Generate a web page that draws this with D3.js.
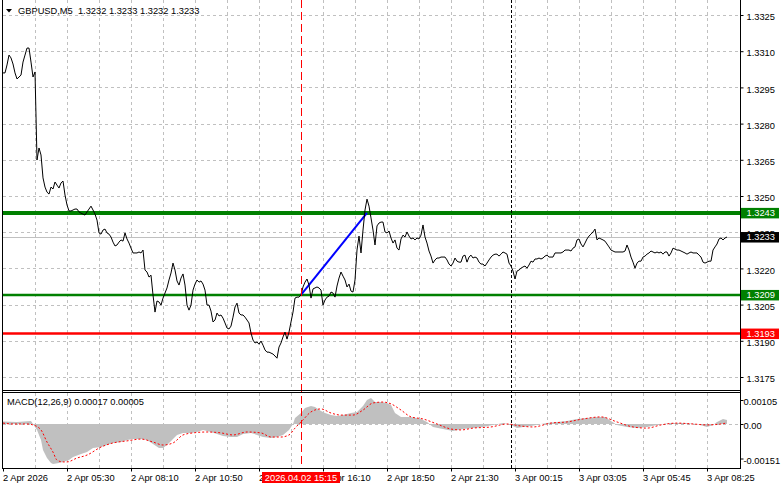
<!DOCTYPE html>
<html><head><meta charset="utf-8">
<script src="https://cdn.jsdelivr.net/npm/d3@7"></script>
<style>
body{margin:0;background:#fff}
svg{display:block}
text{font-family:"Liberation Sans",Arial,sans-serif;font-size:9.3px;fill:#000}
</style>
</head><body><script>
// ---- data ----
const symbolTitle = "GBPUSD,M5  1.3232 1.3233 1.3232 1.3233";
const macdTitle = "MACD(12,26,9) 0.00017 0.00005";
// M5 close prices, one per bar
const closes = [
1.33010,1.33010,1.33043,1.33084,1.33072,1.33047,1.33010,1.32985,1.32993,1.33001,1.33055,1.33084,1.33113,1.33113,1.33055,1.32993,1.33014,
1.32649,1.32699,1.32670,1.32575,1.32537,1.32516,1.32508,1.32537,1.32529,1.32558,1.32545,1.32533,1.32554,1.32562,
1.32504,1.32463,1.32438,1.32438,1.32442,1.32446,1.32446,1.32434,1.32429,1.32425,1.32421,1.32434,1.32446,1.32458,1.32442,1.32425,1.32400,
1.32347,1.32342,1.32359,1.32363,1.32347,1.32342,1.32330,1.32309,1.32293,1.32297,1.32309,1.32318,1.32313,1.32347,1.32322,1.32305,1.32284,1.32264,1.32264,1.32264,1.32268,1.32264,1.32276,
1.32193,1.32185,1.32164,1.32172,1.32090,1.32019,1.32065,1.32061,1.32048,1.32077,1.32098,1.32119,1.32152,1.32181,1.32222,1.32193,1.32148,1.32131,1.32160,1.32177,1.32131,1.32048,1.32027,1.32048,1.32110,1.32135,1.32152,1.32143,1.32148,1.32135,
1.32110,1.32048,1.32048,1.32023,1.31978,1.31986,1.32015,1.32003,1.32007,1.31994,1.31974,1.31953,1.31949,1.31961,1.31998,1.32040,1.32056,1.32015,1.32007,1.32007,1.31998,1.31986,1.31974,1.31932,1.31903,1.31891,1.31895,1.31886,1.31899,1.31882,
1.31862,1.31853,1.31853,1.31849,1.31845,1.31837,1.31828,1.31874,1.31891,1.31916,1.31936,1.31907,1.31936,1.31978,1.32019,1.32077,1.32081,1.32081,1.32090,
1.32123,1.32143,1.32156,1.32131,1.32077,1.32115,1.32119,1.32123,1.32119,1.32110,1.32048,1.32069,1.32081,1.32085,1.32102,1.32098,1.32081,1.32127,1.32160,1.32185,1.32168,1.32152,1.32123,1.32135,1.32106,1.32102,1.32152,
1.32276,1.32334,1.32264,1.32359,1.32442,1.32487,1.32458,1.32409,1.32359,1.32297,1.32376,1.32388,1.32392,1.32392,1.32351,1.32347,1.32355,1.32326,1.32305,1.32318,1.32284,1.32276,1.32322,1.32338,
1.32330,1.32351,1.32334,1.32322,1.32326,1.32318,1.32326,1.32322,1.32338,1.32380,1.32330,1.32305,1.32272,1.32251,1.32222,1.32235,1.32243,1.32243,1.32247,1.32247,1.32247,1.32235,1.32218,1.32210,1.32222,1.32243,1.32230,1.32226,1.32226,1.32251,
1.32255,1.32226,1.32247,1.32255,1.32243,1.32247,1.32243,1.32226,1.32218,1.32218,1.32210,1.32222,1.32235,1.32247,1.32255,1.32259,1.32259,1.32251,1.32259,1.32268,1.32264,1.32259,1.32222,1.32210,1.32189,1.32156,1.32189,1.32193,1.32201,1.32206,
1.32210,1.32201,1.32214,1.32230,1.32226,1.32239,1.32239,1.32243,1.32239,1.32243,1.32251,1.32255,1.32247,1.32247,1.32247,1.32264,1.32264,1.32264,1.32264,1.32268,1.32276,1.32276,1.32276,1.32272,1.32284,1.32289,1.32318,1.32322,1.32301,1.32289,
1.32305,1.32322,1.32334,1.32342,1.32351,1.32363,1.32318,1.32326,1.32322,1.32318,1.32313,1.32301,1.32289,1.32276,1.32272,1.32268,1.32268,1.32268,1.32268,1.32268,1.32272,1.32297,1.32276,1.32247,1.32226,1.32201,1.32222,1.32230,1.32230,1.32247,
1.32251,1.32259,1.32264,1.32272,1.32268,1.32264,1.32268,1.32264,1.32268,1.32259,1.32268,1.32268,1.32251,1.32264,1.32284,1.32280,1.32276,1.32276,1.32272,1.32268,1.32264,1.32259,1.32264,1.32268,1.32264,1.32264,1.32264,1.32255,1.32247,1.32226,
1.32222,1.32226,1.32230,1.32230,1.32276,1.32289,1.32301,1.32322,1.32326,1.32318,1.32326,1.32330
];
// MACD histogram (main line) samples: bar index, value
const histBars = [0,7,14,15,17,19,20,22,24,25,28,30,33,35,39,42,45,49,52,55,59,62,65,69,72,75,78,80,82,85,87,90,94,97,100,104,107,110,114,117,120,124,127,130,134,137,140,143,145,146,149,151,154,156,159,161,164,167,170,174,177,180,182,184,186,189,192,194,196,199,204,209,212,215,220,225,230,235,240,245,250,254,257,260,264,269,272,277,282,287,292,297,301,304,307,312,317,322,327,334,340,347,352,355,357,360,362];
const histValues = [0.00011,0.00009,0.00013,0,-0.00026,-0.00070,-0.00114,-0.00149,-0.00171,-0.00175,-0.00171,-0.00166,-0.00158,-0.00144,-0.00131,-0.00123,-0.00105,-0.00101,-0.00092,-0.00083,-0.00079,-0.00070,-0.00066,-0.00066,-0.00070,-0.00088,-0.00105,-0.00105,-0.00092,-0.00066,-0.00048,-0.00039,-0.00039,-0.00035,-0.00026,-0.00035,-0.00044,-0.00053,-0.00057,-0.00057,-0.00044,-0.00039,-0.00048,-0.00057,-0.00061,-0.00057,-0.00048,-0.00026,0,0.00026,0.00048,0.00070,0.00079,0.00074,0.00057,0.00048,0.00039,0.00035,0.00039,0.00048,0.00053,0.00079,0.00105,0.00114,0.00096,0.00096,0.00092,0.00083,0.00048,0.00031,0.00031,0.00022,0.00009,-0.00013,-0.00022,-0.00031,-0.00022,-0.00018,-0.00013,-0.00004,0.00004,-0.00004,-0.00018,-0.00013,-0.00009,0,0.00004,0.00009,0.00013,0.00022,0.00026,0.00031,0.00031,0.00013,-0.00004,-0.00013,-0.00018,-0.00013,-0.00004,0.00004,0.00004,0,-0.00013,-0.00004,0.00009,0.00022,0.00017];
// MACD signal line samples
const sigBars = [0,5,12,15,19,22,25,27,30,32,37,42,49,55,62,69,75,80,85,90,95,102,109,115,122,129,134,139,143,146,150,154,159,164,169,175,180,185,190,194,199,204,210,217,224,229,235,244,252,259,265,274,282,290,299,307,315,322,329,337,345,352,359,362];
const sigValues = [0.00004,0,0,-0.00004,-0.00026,-0.00079,-0.00123,-0.00158,-0.00166,-0.00166,-0.00149,-0.00136,-0.00101,-0.00083,-0.00074,-0.00066,-0.00079,-0.00092,-0.00083,-0.00048,-0.00039,-0.00035,-0.00039,-0.00048,-0.00035,-0.00039,-0.00057,-0.00057,-0.00048,-0.00018,0.00018,0.00053,0.00066,0.00048,0.00039,0.00039,0.00061,0.00092,0.00096,0.00088,0.00061,0.00031,0.00022,0,-0.00022,-0.00026,-0.00018,-0.00013,0,-0.00009,-0.00013,0.00004,0.00009,0.00022,0.00031,0.00009,-0.00013,-0.00018,-0.00004,0.00004,0,-0.00004,0,0.00005];
const priceTicks = [1.3325,1.3310,1.3295,1.3280,1.3265,1.3250,1.3235,1.3220,1.3205,1.3190,1.3175];
const macdTicks = [0.00105,0,-0.00151];
const timeTickBars = [0,32,64,96,128,160,192,224,256,288,320,352];
const timeTickLabels = ["2 Apr 2026","2 Apr 05:30","2 Apr 08:10","2 Apr 10:50","2 Apr 13:30","2 Apr 16:10","2 Apr 18:50","2 Apr 21:30","3 Apr 00:15","3 Apr 03:05","3 Apr 05:45","3 Apr 08:25"];
const levelValues = [1.3243,1.3209,1.3193];
const lastPrice = 1.3233;
const markerBar = 149, markerLabel = "2026.04.02 15:15";
const sessionBar = 254;
const trendBars = [149,182], trendValues = [1.3209,1.3243];

// ---- layout ----
const W=781,H=489;
const X0=3, X1=740, MAIN_T=0, MAIN_B=390, MACD_T=393, MACD_B=468;
const svg=d3.select("body").append("svg").attr("width",W).attr("height",H);
const x=d3.scaleLinear().domain([0,368.5]).range([X0,X1]);
const yP=d3.scaleLinear().domain([1.3175,1.3325]).range([377,15]);
const yM=d3.scaleLinear().domain([-0.00151,0.00105]).range([458.5,400]);
const grid="#c0c0c0";

svg.append("clipPath").attr("id","cm").append("rect").attr("x",X0).attr("y",MAIN_T).attr("width",X1-X0).attr("height",MAIN_B-MAIN_T);
svg.append("clipPath").attr("id","cd").append("rect").attr("x",X0).attr("y",MACD_T).attr("width",X1-X0).attr("height",MACD_B-MACD_T);

const gMain=svg.append("g").attr("clip-path","url(#cm)");
const gMacd=svg.append("g").attr("clip-path","url(#cd)");

// grid
const vBars=d3.range(16,368,16);
[[gMain,MAIN_T,MAIN_B],[gMacd,MACD_T,MACD_B]].forEach(([g,t,b])=>{
  g.selectAll(null).data(vBars).enter().append("line")
   .attr("x1",d=>Math.round(x(d))+0.5).attr("x2",d=>Math.round(x(d))+0.5)
   .attr("y1",t).attr("y2",b).attr("stroke",grid).attr("stroke-dasharray","3,3").attr("shape-rendering","crispEdges");
});
gMain.selectAll(null).data(priceTicks).enter().append("line")
  .attr("x1",X0).attr("x2",X1).attr("y1",d=>Math.round(yP(d))+0.5).attr("y2",d=>Math.round(yP(d))+0.5)
  .attr("stroke",grid).attr("stroke-dasharray","3,3").attr("shape-rendering","crispEdges");
gMacd.append("line").attr("x1",X0).attr("x2",X1).attr("y1",Math.round(yM(0))+0.5).attr("y2",Math.round(yM(0))+0.5)
  .attr("stroke",grid).attr("stroke-dasharray","3,3").attr("shape-rendering","crispEdges");

// levels
const levelColors=["#008000","#008000","#ff0000"], levelWidths=[4,2.5,2.5];
gMain.selectAll(null).data(levelValues).enter().append("line")
  .attr("x1",X0).attr("x2",X1).attr("y1",d=>yP(d)).attr("y2",d=>yP(d))
  .attr("stroke",(d,i)=>levelColors[i]).attr("stroke-width",(d,i)=>levelWidths[i]);
gMain.append("line").attr("x1",X0).attr("x2",X1).attr("y1",Math.round(yP(lastPrice))+0.5).attr("y2",Math.round(yP(lastPrice))+0.5)
  .attr("stroke","#c0c0c0").attr("shape-rendering","crispEdges");

// trend line
gMain.append("line").attr("x1",x(trendBars[0])).attr("y1",yP(trendValues[0]))
  .attr("x2",x(trendBars[1])).attr("y2",yP(trendValues[1])).attr("stroke","#0000ff").attr("stroke-width",2);

// price line
gMain.append("path").datum(closes).attr("fill","none").attr("stroke","#000").attr("stroke-width",1)
  .attr("d",d3.line().x((d,i)=>x(i)).y(d=>yP(d)));

// MACD
const hist=histBars.map((b,i)=>[b,histValues[i]]);
gMacd.append("path").datum(hist).attr("fill","#c0c0c0")
  .attr("d",d3.area().x(d=>x(d[0])).y0(yM(0)).y1(d=>yM(d[1])));
const sig=sigBars.map((b,i)=>[b,sigValues[i]]);
gMacd.append("path").datum(sig).attr("fill","none").attr("stroke","#ff0000").attr("stroke-width",1).attr("stroke-dasharray","2,2")
  .attr("d",d3.line().curve(d3.curveMonotoneX).x(d=>x(d[0])).y(d=>yM(d[1])));

// vertical markers
svg.append("line").attr("x1",Math.round(x(markerBar))+0.5).attr("x2",Math.round(x(markerBar))+0.5)
  .attr("y1",MAIN_T).attr("y2",MACD_B).attr("stroke","#ff0000").attr("stroke-dasharray","8,4");
svg.append("line").attr("x1",Math.round(x(sessionBar))+0.5).attr("x2",Math.round(x(sessionBar))+0.5)
  .attr("y1",MAIN_T).attr("y2",MACD_B).attr("stroke","#000").attr("stroke-dasharray","3,2");

// borders
const bd=svg.append("g").attr("stroke","#000").attr("shape-rendering","crispEdges");
bd.append("line").attr("x1",2.5).attr("x2",2.5).attr("y1",0).attr("y2",MACD_B+0.5);
bd.append("line").attr("x1",X1+0.5).attr("x2",X1+0.5).attr("y1",0).attr("y2",MACD_B+0.5);
bd.append("line").attr("x1",2.5).attr("x2",X1+0.5).attr("y1",MAIN_B+0.5).attr("y2",MAIN_B+0.5);
bd.append("line").attr("x1",2.5).attr("x2",X1+0.5).attr("y1",MACD_T-0.5).attr("y2",MACD_T-0.5);
bd.append("line").attr("x1",2.5).attr("x2",X1+0.5).attr("y1",MACD_B+0.5).attr("y2",MACD_B+0.5);

// axes
const ax=svg.append("g").attr("transform",`translate(${X1+0.5},0)`)
  .call(d3.axisRight(yP).tickValues(priceTicks).tickSize(3).tickPadding(3).tickFormat(d3.format(".4f")));
ax.select(".domain").remove();
ax.selectAll("text").attr("dy","0.5em");
const am=svg.append("g").attr("transform",`translate(${X1+0.5},0)`)
  .call(d3.axisRight(yM).tickValues(macdTicks).tickSize(3).tickPadding(0).tickFormat(d=>d===0?"0.00":d.toFixed(5)));
am.select(".domain").remove();
am.selectAll("text").attr("dy","0.5em");
const at=svg.append("g").attr("transform",`translate(0,${MACD_B+0.5})`)
  .call(d3.axisBottom(x).tickValues(timeTickBars).tickSize(3).tickPadding(3).tickFormat((d,i)=>timeTickLabels[i]));
at.select(".domain").remove();
at.selectAll("text").attr("text-anchor","start").attr("dx","-0.5");
[ax,am,at].forEach(a=>{a.attr("font-family",null).attr("font-size",null);a.selectAll("line").attr("stroke","#000");});

// right-side price labels
const tagBg=["#008000","#008000","#ff0000"];
const tags=levelValues.map((v,i)=>({v,c:tagBg[i]})).concat([{v:lastPrice,c:"#000"}]);
const tg=svg.append("g");
tags.forEach(t=>{
  const cy=yP(t.v);
  tg.append("rect").attr("x",X1+1).attr("y",cy-5).attr("width",38).attr("height",10.5).attr("fill",t.c);
  tg.append("text").attr("x",X1+6.5).attr("y",cy).attr("dy","0.36em").style("fill","#fff").text(d3.format(".4f")(t.v));
});

// time marker tag
const mx=x(markerBar);
svg.append("rect").attr("x",mx-39).attr("y",472).attr("width",78).attr("height",11).attr("fill","#ff0000");
svg.append("text").attr("x",mx).attr("y",481).attr("text-anchor","middle").style("fill","#fff").text(markerLabel);

// titles
svg.append("path").attr("d","M6,9L12,9L9,12.5Z").attr("fill","#000");
svg.append("text").attr("x",18).attr("y",14).style("white-space","pre").text(symbolTitle);
svg.append("text").attr("x",7).attr("y",405).text(macdTitle);
</script></body></html>
